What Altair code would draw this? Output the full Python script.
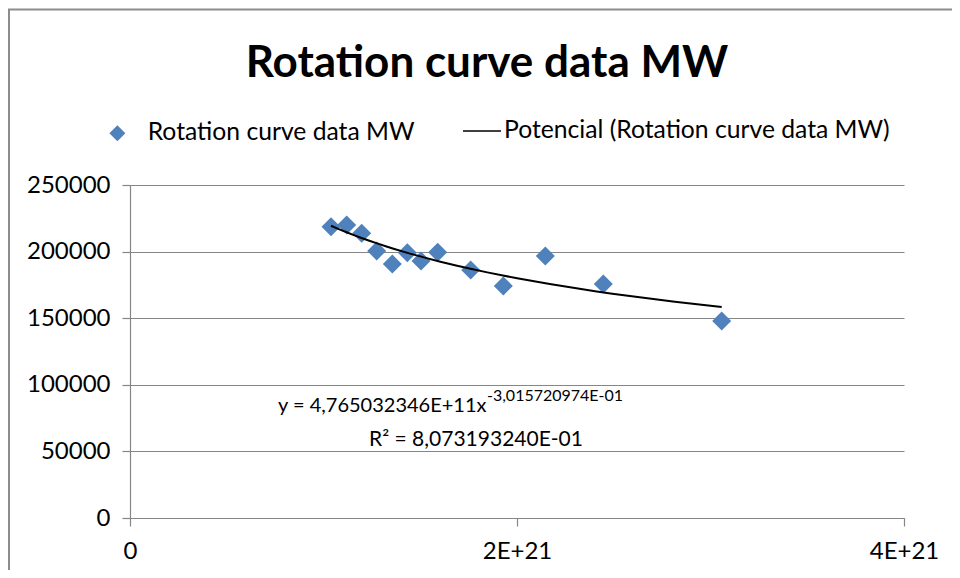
import altair as alt
import pandas as pd

# ---- data ----
series_name = "Rotation curve data MW"
trend_name = "Potencial (Rotation curve data MW)"
chart_title = "Rotation curve data MW"

radius_m = [1.0388e21, 1.1199e21, 1.1974e21, 1.2749e21, 1.3556e21, 1.4331e21,
            1.5039e21, 1.5902e21, 1.7607e21, 1.9292e21, 2.1462e21, 2.4460e21,
            3.0579e21]
velocity = [218722, 219997, 213771, 200495, 190744, 199220,
            192994, 199520, 186244, 174243, 196745, 175743,
            147990]

x_ticks = [0, 2e21, 4e21]
y_ticks = [0, 50000, 100000, 150000, 200000, 250000]

eq_main = ["y = 4,765032346E+11x"]
eq_exp = ["-3,015720974E-01"]
eq_r2 = ["R\u00b2 = 8,073193240E-01"]

FONT = "Lato"
GRAY = "#868686"
BLUE = "#4F81BD"

df = pd.DataFrame({"r": radius_m, "v": velocity, "series": series_name})

x_enc = alt.X(
    "r:Q",
    title=None,
    scale=alt.Scale(domain=[0, 4e21], nice=False, zero=True),
    axis=alt.Axis(values=x_ticks, grid=False,
                  labelExpr="datum.value == 0 ? '0' : upper(format(datum.value, '.0e'))",
                  labelPadding=13, labelFlush=False),
)
y_enc = alt.Y(
    "v:Q",
    title=None,
    scale=alt.Scale(domain=[0, 250000], nice=False),
    axis=alt.Axis(values=y_ticks, grid=True, format="d", labelPadding=12),
)

points = alt.Chart(df).mark_point(
    shape="diamond", filled=True, size=361, opacity=1
).encode(
    x=x_enc,
    y=y_enc,
    color=alt.Color(
        "series:N",
        scale=alt.Scale(range=[BLUE]),
        legend=alt.Legend(orient="none", legendX=-25, legendY=-64, title=None,
                          symbolType="diamond", symbolSize=256, labelOffset=18,
                          labelFont=FONT, labelFontSize=24.7, labelColor="black",
                          labelLimit=0, padding=0, symbolOpacity=1),
    ),
)

trend = alt.Chart(df).transform_regression(
    "r", "v", method="pow"
).transform_calculate(
    fit=f"'{trend_name}'"
).mark_line(strokeWidth=2).encode(
    x=alt.X("r:Q"),
    y=alt.Y("v:Q"),
    stroke=alt.Stroke(
        "fit:N",
        scale=alt.Scale(range=["black"]),
        legend=alt.Legend(orient="none", legendX=332, legendY=-74, title=None,
                          symbolType="stroke", symbolSize=1444, symbolStrokeWidth=1.5,
                          labelOffset=2, labelFont=FONT, labelFontSize=24.7,
                          labelLimit=0, labelColor="black", padding=0),
    ),
)

eq1 = alt.Chart(pd.DataFrame({"t": eq_main})).mark_text(
    align="left", baseline="alphabetic", font=FONT, fontSize=20, color="black"
).encode(x=alt.value(148), y=alt.value(227), text="t:N")

eq1s = alt.Chart(pd.DataFrame({"t": eq_exp})).mark_text(
    align="left", baseline="alphabetic", font=FONT, fontSize=16, color="black"
).encode(x=alt.value(357), y=alt.value(216), text="t:N")

eq2 = alt.Chart(pd.DataFrame({"t": eq_r2})).mark_text(
    align="left", baseline="alphabetic", font=FONT, fontSize=21, color="black"
).encode(x=alt.value(239), y=alt.value(261), text="t:N")

border = alt.Chart(pd.DataFrame({"b": [0]})).mark_rect(
    fill="transparent", stroke="#8c8c8c", strokeWidth=2
).encode(x=alt.value(-121), y=alt.value(-175.5), x2=alt.value(1000), y2=alt.value(700))

chart = alt.layer(border, points, trend, eq1, eq1s, eq2).properties(
    width=774,
    height=333,
    title=alt.TitleParams(chart_title, anchor="middle", dx=-30, offset=0, dy=112,
                          baseline="alphabetic", font=FONT, fontSize=44,
                          fontWeight="bold", color="black"),
    autosize=alt.AutoSizeParams(type="none"),
    padding={"left": 122, "top": 177, "right": 48, "bottom": 52},
).configure(background="white").configure_view(stroke=None).configure_axis(
    labelFont=FONT, labelFontSize=24, labelColor="black",
    domainColor=GRAY, tickColor=GRAY, gridColor=GRAY,
    tickSize=8, domainWidth=1.2, tickWidth=1.2, gridWidth=1.2,
)

chart.save("out.html", embed_options={"renderer": "svg", "actions": False})
